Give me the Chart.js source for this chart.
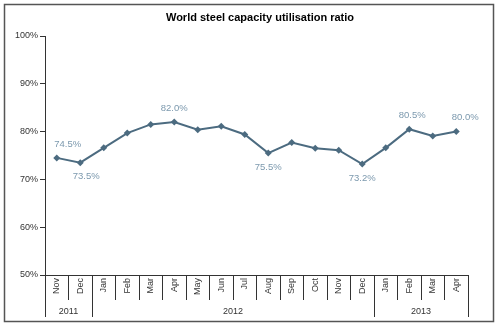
<!DOCTYPE html>
<html>
<head>
<meta charset="utf-8">
<script src="https://cdn.jsdelivr.net/npm/chart.js@4"></script>
<style>
  html, body { margin: 0; padding: 0; background: #fff; }
  #wrap { width: 499px; height: 326px; position: relative; }
</style>
</head>
<body>
<div id="wrap"><canvas id="canvas" width="499" height="326"></canvas></div>
<script>
// monthly categories, Nov 2011 .. Apr 2013
var months = ['Nov', 'Dec', 'Jan', 'Feb', 'Mar', 'Apr', 'May', 'Jun', 'Jul',
              'Aug', 'Sep', 'Oct', 'Nov', 'Dec', 'Jan', 'Feb', 'Mar', 'Apr'];
var years = ['2011', '2012', '2013'];
var yearSpans = [2, 12, 4];   // number of months under each year
var utilisation = [74.5, 73.5, 76.6, 79.7, 81.5, 82.0, 80.4, 81.1, 79.4,
                   75.5, 77.7, 76.5, 76.1, 73.2, 76.6, 80.5, 79.1, 80.0];
var yTicks = [50, 60, 70, 80, 90, 100];

// which points carry a value label, and where
var labelled = {0: 'above', 1: 'below', 5: 'above', 9: 'below', 13: 'below', 15: 'above', 17: 'above'};
var labelShift = {0: 11, 1: 6, 17: 9, 15: 3};

var LINE = '#4c6b80';
var LABEL = '#7c99ae';
var AXIS = '#333333';

var extras = {
    id: 'extras',
    beforeDraw: function(chart) {
        var c = chart.ctx;
        c.save();
        c.fillStyle = '#fff';
        c.fillRect(0, 0, chart.width, chart.height);
        c.strokeStyle = '#555';
        c.lineWidth = 1.5;
        c.strokeRect(4.5, 4.5, 489, 317);
        c.restore();
    },
    afterDraw: function(chart) {
        var c = chart.ctx;
        var x = chart.scales.x;
        var area = chart.chartArea;
        var step = (x.right - x.left) / months.length;
        c.save();
        // title
        c.fillStyle = '#000';
        c.font = 'bold 11px "Liberation Sans", Arial, sans-serif';
        c.textAlign = 'center';
        c.textBaseline = 'middle';
        c.fillText('World steel capacity utilisation ratio', 260, 18);

        // year row separators and labels
        c.strokeStyle = AXIS;
        c.lineWidth = 1;
        var start = 0;
        c.beginPath();
        c.moveTo(Math.round(x.left) + 0.5, area.bottom);
        c.lineTo(Math.round(x.left) + 0.5, 317);
        c.stroke();
        c.font = '9px "Liberation Sans", Arial, sans-serif';
        c.fillStyle = AXIS;
        for (var i = 0; i < years.length; i++) {
            var end = start + yearSpans[i];
            var x0 = x.left + start * step;
            var x1 = x.left + end * step;
            c.beginPath();
            c.moveTo(Math.round(x1) + 0.5, area.bottom);
            c.lineTo(Math.round(x1) + 0.5, 317);
            c.stroke();
            c.fillText(years[i], (x0 + x1) / 2, 312);
            start = end;
        }

        // value labels
        var meta = chart.getDatasetMeta(0);
        c.font = '9.5px "Liberation Sans", Arial, sans-serif';
        c.fillStyle = LABEL;
        Object.keys(labelled).forEach(function(k) {
            var p = meta.data[k];
            var dx = labelShift[k] || 0;
            var dy = labelled[k] === 'above' ? -14 : 14;
            c.fillText(utilisation[k].toFixed(1) + '%', p.x + dx, p.y + dy);
        });
        c.restore();
    }
};

var config = {
    type: 'line',
    data: {
        labels: months,
        datasets: [{
            data: utilisation,
            borderColor: LINE,
            backgroundColor: LINE,
            borderWidth: 2,
            pointStyle: 'rectRot',
            pointRadius: 3.5,
            pointBorderWidth: 0,
            tension: 0
        }]
    },
    options: {
        responsive: false,
        animation: false,
        events: [],
        layout: { padding: { top: 36, left: 5, right: 31, bottom: 5 } },
        plugins: {
            legend: { display: false },
            title: { display: false },
            tooltip: { enabled: false }
        },
        scales: {
            y: {
                min: 50,
                max: 100,
                afterFit: function(s) { s.width = 40; },
                afterBuildTicks: function(s) {
                    s.ticks = yTicks.map(function(v) { return { value: v }; });
                },
                grid: { drawOnChartArea: false, color: AXIS, tickLength: 5, tickColor: AXIS },
                border: { color: AXIS, width: 1 },
                ticks: {
                    padding: 2,
                    color: AXIS,
                    font: { family: '"Liberation Sans", Arial, sans-serif', size: 9 },
                    callback: function(v) { return v + '%'; }
                }
            },
            x: {
                offset: true,
                afterFit: function(s) { s.height = 46; },
                grid: { offset: true, drawOnChartArea: false, color: AXIS, tickLength: 25, tickColor: AXIS },
                border: { color: AXIS, width: 1 },
                ticks: {
                    autoSkip: false,
                    minRotation: 90,
                    maxRotation: 90,
                    padding: -22,
                    color: AXIS,
                    font: { family: '"Liberation Sans", Arial, sans-serif', size: 9 }
                }
            }
        }
    },
    plugins: [extras]
};

window.addEventListener('load', function() {
    var ctx = document.getElementById('canvas').getContext('2d');
    window.LineChart = new Chart(ctx, config);
});
</script>
</body>
</html>
